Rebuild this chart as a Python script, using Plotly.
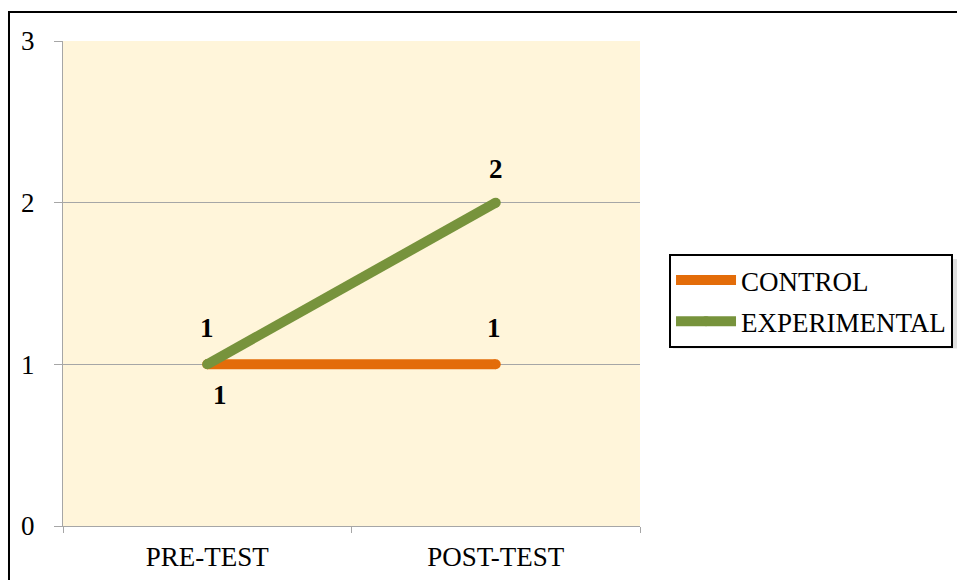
import plotly.graph_objects as go

# Test phases and mean scores for each group
phases = ["PRE-TEST", "POST-TEST"]
control = [1, 1]
experimental = [1, 2]
y_ticks = [0, 1, 2, 3]

ORANGE = "#E36C09"
GREEN = "#77933C"
FONT = "Liberation Serif"

fig = go.Figure()

fig.add_trace(go.Scatter(
    x=phases, y=control, name="CONTROL", mode="lines+markers",
    line=dict(color=ORANGE, width=10),
    marker=dict(color=ORANGE, size=10, line=dict(width=0)),
    legendgroup="c",
))
fig.add_trace(go.Scatter(
    x=phases, y=experimental, name="EXPERIMENTAL", mode="lines+markers",
    line=dict(color=GREEN, width=10),
    marker=dict(color=GREEN, size=10, line=dict(width=0)),
    legendgroup="e",
))

# Value labels (offsets in pixels relative to each point)
label_offsets = {
    "c": [(13, -31), (-2, 36)],
    "e": [(0, 36), (0, 34)],
}
for key, series in (("c", control), ("e", experimental)):
    for (xs, ys), cat, val in zip(label_offsets[key], phases, series):
        fig.add_annotation(
            x=cat, y=val, text=f"<b>{val}</b>", showarrow=False,
            xshift=xs, yshift=ys,
            font=dict(family=FONT, size=27, color="black"),
        )

# Outer frame (top and left edges visible)
fig.add_shape(type="rect", xref="paper", yref="paper",
              x0=-0.0936, x1=1.7, y0=-0.3, y1=1.0598,
              line=dict(color="black", width=2), layer="below")

# Soft shadow behind the legend
fig.add_shape(type="rect", xref="paper", yref="paper",
              x0=1.0572, x1=1.553, y0=0.366, y1=0.5505,
              line=dict(width=0), fillcolor="rgba(0,0,0,0.12)", layer="below")

fig.update_layout(
    width=957, height=580,
    margin=dict(l=63, r=317, t=41, b=54, autoexpand=False),
    paper_bgcolor="white",
    plot_bgcolor="#FFF5DA",
    font=dict(family=FONT, size=27, color="black"),
    showlegend=True,
    legend=dict(
        x=1.0503, y=0.5608, xanchor="left", yanchor="top",
        bgcolor="white", bordercolor="black", borderwidth=2,
        font=dict(family=FONT, size=27, color="black"),
        itemwidth=60, tracegroupgap=3, traceorder="grouped",
    ),
    xaxis=dict(
        type="category", range=[-0.5, 1.5],
        showline=True, linecolor="#A6A6A6", linewidth=1,
        ticks="outside", tickson="boundaries", ticklen=6, tickcolor="#A6A6A6",
        showgrid=False, zeroline=False,
        tickfont=dict(family=FONT, size=27),
        ticklabelstandoff=7,
    ),
    yaxis=dict(
        range=[0, 3], tickvals=y_ticks,
        showline=True, linecolor="#A6A6A6", linewidth=1,
        ticks="outside", ticklen=8, tickcolor="#A6A6A6",
        showgrid=True, gridcolor="#A6A6A6", gridwidth=1,
        zeroline=False,
        tickfont=dict(family=FONT, size=27),
        ticklabelstandoff=14,
    ),
)

fig.write_html("out.html")
